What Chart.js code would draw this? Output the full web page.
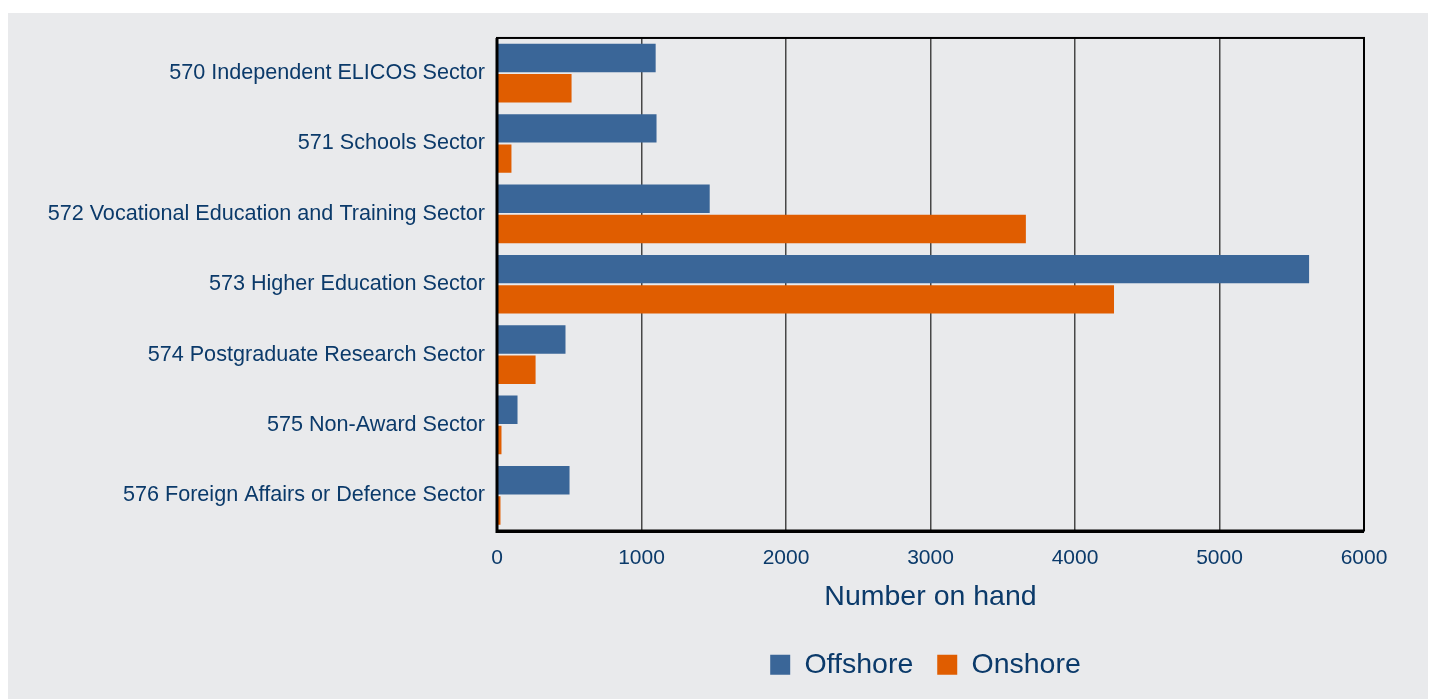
<!DOCTYPE html>
<html>
<head>
<meta charset="utf-8">
<script src="https://cdn.jsdelivr.net/npm/chart.js@4.4.1/dist/chart.umd.min.js"></script>
<style>
  html, body { margin: 0; padding: 0; background: #ffffff; }
  #wrap { position: absolute; left: 8px; top: 13px; width: 1420px; height: 686px; background: #e9eaec; }
</style>
</head>
<body>
<div id="wrap"><canvas id="chart"></canvas></div>
<script>
const categories = [
  "570 Independent ELICOS Sector",
  "571 Schools Sector",
  "572 Vocational Education and Training Sector",
  "573 Higher Education Sector",
  "574 Postgraduate Research Sector",
  "575 Non-Award Sector",
  "576 Foreign Affairs or Defence Sector"
];
const offshore = [1098, 1104, 1472, 5620, 474, 142, 502];
const onshore = [516, 100, 3660, 4270, 267, 31, 24];
const xTicks = [0, 1000, 2000, 3000, 4000, 5000, 6000];

const textColor = '#0b3a6a';
const font = 'Liberation Sans, Arial, sans-serif';

// black frame round the plot area, legend centred under the plot
const framePlugin = {
  id: 'frame',
  beforeDraw(chart) {
    const lg = chart.legend, a = chart.chartArea;
    if (lg) {
      lg.left = a.left - 5;
      lg.right = a.right - 5;
      lg.width = a.right - a.left;
    }
  },
  afterDatasetsDraw(chart) {
    const { ctx, chartArea: a } = chart;
    ctx.save();
    ctx.strokeStyle = '#000';
    ctx.lineWidth = 2;
    ctx.strokeRect(a.left, a.top, a.right - a.left, a.bottom - a.top);
    ctx.lineWidth = 3;
    ctx.beginPath();
    ctx.moveTo(a.left, a.top);
    ctx.lineTo(a.left, a.bottom + 1);
    ctx.lineTo(a.right, a.bottom + 1);
    ctx.stroke();
    ctx.restore();
  }
};

new Chart(document.getElementById('chart'), {
  type: 'bar',
  data: {
    labels: categories,
    datasets: [
      { label: 'Offshore', data: offshore, backgroundColor: '#3a6698', categoryPercentage: 0.86, barPercentage: 0.94 },
      { label: 'Onshore', data: onshore, backgroundColor: '#e05d00', categoryPercentage: 0.86, barPercentage: 0.94 }
    ]
  },
  options: {
    indexAxis: 'y',
    responsive: true,
    maintainAspectRatio: false,
    animation: false,
    layout: { padding: { top: 23, right: 64, bottom: 10, left: 0 } },
    plugins: {
      legend: {
        position: 'bottom',
        labels: {
          boxWidth: 20, boxHeight: 20, padding: 24, color: textColor,
          font: { family: font, size: 28.5, lineHeight: 1 }
        }
      },
      tooltip: { enabled: false }
    },
    scales: {
      x: {
        min: 0, max: 6000,
        afterBuildTicks(scale) { scale.ticks = xTicks.map(v => ({ value: v })); },
        afterFit(scale) { scale.height = 96; },
        grid: { color: '#474747', lineWidth: 1.5, drawTicks: false },
        border: { display: false },
        ticks: {
          color: textColor, padding: 15, font: { family: font, size: 21 },
          callback: v => String(v)
        },
        title: {
          display: true, text: 'Number on hand', color: textColor,
          font: { family: font, size: 28.5, lineHeight: 1.2 },
          padding: { top: 0, bottom: 12 }
        }
      },
      y: {
        afterFit(scale) { scale.width = 489; },
        grid: { display: false, drawTicks: false },
        border: { display: false },
        ticks: { color: textColor, padding: 12, font: { family: font, size: 21.6 } }
      }
    }
  },
  plugins: [framePlugin]
});
</script>
</body>
</html>
